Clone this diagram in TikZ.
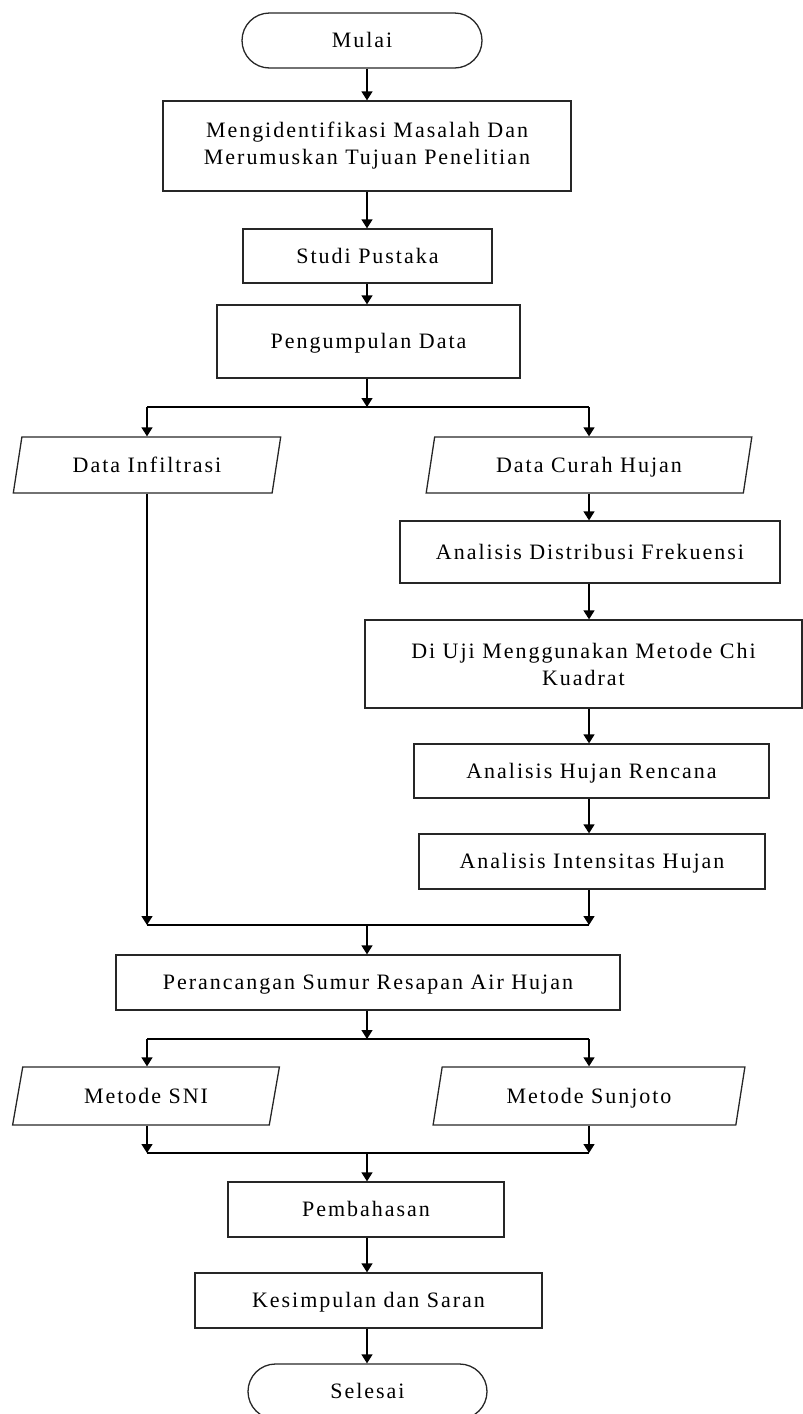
\documentclass[tikz,border=0pt]{standalone}
\usepackage{fontspec}
\setmainfont{Liberation Serif}[LetterSpace=9]
\usetikzlibrary{shapes.geometric,shapes.misc,arrows.meta,calc}
\newcommand\dgfont{\fontsize{22}{27}\selectfont}
\tikzset{
  box/.style={draw=black!85, line width=1.3pt, rectangle, inner sep=0pt, align=center, font=\dgfont},
  term/.style={draw=black!85, line width=1.3pt, rounded rectangle, inner sep=0pt, align=center, font=\dgfont, one},
  io/.style={draw=black!85, line width=1.3pt, trapezium, trapezium left angle=70, trapezium right angle=110,
             trapezium stretches=true, inner sep=0pt, align=center, font=\dgfont, one},
  one/.style={text height=14pt, text depth=0pt},
  arr/.style={-{Triangle[length=9pt,width=11pt]}, line width=1.4pt},
  ln/.style={line width=1.3pt}
}
\begin{document}
\begin{tikzpicture}[x=1pt,y=-1pt]
\useasboundingbox (0,0) rectangle (803,1414);
% nodes
\node[term, minimum width=240pt, minimum height=55pt] (mulai) at (362,40.5) {Mulai};
\node[box, minimum width=408pt, minimum height=90pt] (b1) at (367,146) {Mengidentifikasi Masalah Dan\\Merumuskan Tujuan Penelitian};
\node[box, one, minimum width=249pt, minimum height=54pt] (sp) at (367.5,256) {Studi Pustaka};
\node[box, one, minimum width=303pt, minimum height=73pt] (pd) at (368.5,341.5) {Pengumpulan Data};
\node[io, minimum width=268pt, minimum height=56pt] (di) at (147,465) {Data Infiltrasi};
\node[io, minimum width=326pt, minimum height=56pt] (dch) at (589,465) {Data Curah Hujan};
\node[box, one, minimum width=380pt, minimum height=62pt] (adf) at (590,552) {Analisis Distribusi Frekuensi};
\node[box, minimum width=437pt, minimum height=88pt] (du) at (583.5,664) {Di Uji Menggunakan Metode Chi\\Kuadrat};
\node[box, one, minimum width=355pt, minimum height=54pt] (ahr) at (591.5,771) {Analisis Hujan Rencana};
\node[box, one, minimum width=346pt, minimum height=55pt] (aih) at (592,861.5) {Analisis Intensitas Hujan};
\node[box, one, minimum width=504pt, minimum height=55pt] (pr) at (368,982.5) {Perancangan Sumur Resapan Air Hujan};
\node[io, minimum width=267pt, minimum height=58pt] (sni) at (146,1096) {Metode SNI};
\node[io, minimum width=312pt, minimum height=58pt] (sun) at (589,1096) {Metode Sunjoto};
\node[box, one, minimum width=276pt, minimum height=55pt] (pb) at (366,1209.5) {Pembahasan};
\node[box, one, minimum width=347pt, minimum height=55pt] (ks) at (368.5,1300.5) {Kesimpulan dan Saran};
\node[term, minimum width=239pt, minimum height=55pt] (sl) at (367.5,1391.5) {Selesai};
% junction points
\coordinate (j1) at (367,407);
\coordinate (j2) at (367,925);
\coordinate (j3) at (367,1039);
\coordinate (j4) at (367,1153);
% connectors
\draw[arr] (mulai.south -| b1.north) -- (b1.north);
\draw[arr] (b1.south) -- (sp.north -| b1.south);
\draw[arr] (sp.south -| b1.south) -- (pd.north -| b1.south);
\draw[arr] (pd.south -| j1) -- (j1);
\draw[ln] (di.north |- j1) -- (dch.north |- j1);
\draw[arr] (di.north |- j1) -- (di.north);
\draw[arr] (dch.north |- j1) -- (dch.north);
\draw[arr] (dch.south) -- (adf.north -| dch.south);
\draw[arr] (adf.south -| dch.south) -- (du.north -| dch.south);
\draw[arr] (du.south -| dch.south) -- (ahr.north -| dch.south);
\draw[arr] (ahr.south -| dch.south) -- (aih.north -| dch.south);
\draw[arr] (di.south) -- (di.south |- j2);
\draw[arr] (aih.south -| dch.south) -- (dch.south |- j2);
\draw[ln] (di.south |- j2) -- (dch.south |- j2);
\draw[arr] (j2) -- (pr.north -| j2);
\draw[arr] (pr.south -| j3) -- (j3);
\draw[ln] (di.south |- j3) -- (dch.south |- j3);
\draw[arr] (di.south |- j3) -- (sni.north -| di.south);
\draw[arr] (dch.south |- j3) -- (sun.north -| dch.south);
\draw[arr] (sni.south -| di.south) -- (di.south |- j4);
\draw[arr] (sun.south -| dch.south) -- (dch.south |- j4);
\draw[ln] (di.south |- j4) -- (dch.south |- j4);
\draw[arr] (j4) -- (pb.north -| j4);
\draw[arr] (pb.south -| j4) -- (ks.north -| j4);
\draw[arr] (ks.south -| j4) -- (sl.north -| j4);
\end{tikzpicture}
\end{document}
